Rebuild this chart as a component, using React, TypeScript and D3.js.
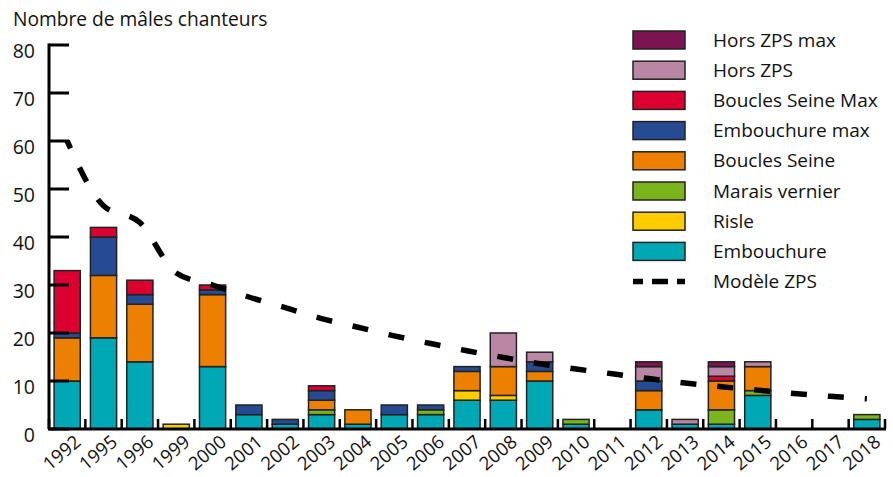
import React from "react";
import * as d3 from "d3";

const years = ["1992","1995","1996","1999","2000","2001","2002","2003","2004","2005","2006","2007","2008","2009","2010","2011","2012","2013","2014","2015","2016","2017","2018"];

const embouchure      = [10,19,14,0,13,3,1,3,1,3,3,6,6,10,1,0,4,1,1,7,0,0,2];
const risle           = [0,0,0,1,0,0,0,0,0,0,0,2,1,0,0,0,0,0,0,0,0,0,0];
const maraisVernier   = [0,0,0,0,0,0,0,1,0,0,1,0,0,0,1,0,0,0,3,1,0,0,1];
const bouclesSeine    = [9,13,12,0,15,0,0,2,3,0,0,4,6,2,0,0,4,0,6,5,0,0,0];
const embouchureMax   = [1,8,2,0,1,2,1,2,0,2,1,1,0,2,0,0,2,0,0,0,0,0,0];
const bouclesSeineMax = [13,2,3,0,1,0,0,1,0,0,0,0,0,0,0,0,0,0,1,0,0,0,0];
const horsZPS         = [0,0,0,0,0,0,0,0,0,0,0,0,7,2,0,0,3,1,2,1,0,0,0];
const horsZPSMax      = [0,0,0,0,0,0,0,0,0,0,0,0,0,0,0,0,1,0,1,0,0,0,0];

const modeleZPS = [60,46.5,43,32.5,30,27.5,25.3,23,21.2,19.4,17.8,16.3,14.9,13.6,12.5,11.5,10.5,9.6,8.8,8.1,7.4,6.8,6.3];

const yTicks = [0,10,20,30,40,50,60,70,80];

const seriesKeys = ["Embouchure","Risle","Marais vernier","Boucles Seine","Embouchure max","Boucles Seine Max","Hors ZPS","Hors ZPS max"];
const seriesValues = [embouchure, risle, maraisVernier, bouclesSeine, embouchureMax, bouclesSeineMax, horsZPS, horsZPSMax];
const seriesColors = ["#00a8b5","#ffcc00","#7ab51d","#ee8001","#264b93","#dc0030","#b986a4","#7b1450"];
const legendOrder = ["Hors ZPS max","Hors ZPS","Boucles Seine Max","Embouchure max","Boucles Seine","Marais vernier","Risle","Embouchure"];
const modelLabel = "Modèle ZPS";

const W = 893, H = 477;
const FONT = "'Open Sans', 'Noto Sans', sans-serif";

export default function App() {
  const x = d3.scaleBand<string>().domain(years).range([49, 885]).paddingInner(0.28).paddingOuter(0.14);
  const y = d3.scaleLinear().domain([0, 80]).range([429, 45]);
  const step = x.step();

  const table = years.map((yr, i) => {
    const row: any = { year: yr };
    seriesKeys.forEach((k, j) => { row[k] = seriesValues[j][i]; });
    return row;
  });
  const stacked = d3.stack<any>().keys(seriesKeys)(table);
  const colorOf = d3.scaleOrdinal<string, string>().domain(seriesKeys).range(seriesColors);

  const line = d3.line<number>()
    .x((_, i) => (x(years[i]) as number) + x.bandwidth() / 2)
    .y((d) => y(d))
    .curve(d3.curveMonotoneX);

  const boundaries = d3.range(years.length + 1).map((k) => 49 + k * step);

  return (
    <svg width={W} height={H} style={{ position: "absolute", left: 0, top: 0, display: "block", background: "#fff" }} fontFamily={FONT}>
      <text x={13} y={26} fontSize={19.2} fill="#111">Nombre de mâles chanteurs</text>

      {/* bars */}
      {stacked.map((s) => (
        <g key={s.key} fill={colorOf(s.key)}>
          {s.map((d, i) => {
            const h = y(d[0]) - y(d[1]);
            if (h <= 0) return null;
            return (
              <rect key={i} x={x(years[i])} y={y(d[1])} width={x.bandwidth()} height={h}
                stroke="#222" strokeWidth={1.5} />
            );
          })}
        </g>
      ))}

      {/* model line */}
      <path d={line(modeleZPS) || ""} fill="none" stroke="#000" strokeWidth={5.5}
        strokeDasharray="16 21" strokeDashoffset={8} />

      {/* y axis */}
      <line x1={49} x2={49} y1={y(80) - 1.5} y2={y(0)} stroke="#000" strokeWidth={3} />
      {yTicks.map((t) => (
        <g key={t}>
          <line x1={49} x2={69} y1={y(t)} y2={y(t)} stroke="#000" strokeWidth={3} />
          <text x={35} y={y(t) + 13} textAnchor="end" fontSize={19.5} fill="#111">{t}</text>
        </g>
      ))}

      {/* x axis */}
      <line x1={48} x2={886} y1={y(0)} y2={y(0)} stroke="#000" strokeWidth={3} />
      {boundaries.map((b, k) => (
        <line key={k} x1={b} x2={b} y1={y(0) - 10} y2={y(0)} stroke="#000" strokeWidth={2.5} />
      ))}
      {years.map((yr) => {
        const cx = (x(yr) as number) + x.bandwidth() / 2;
        return (
          <text key={yr} transform={`translate(${cx + 15},${444}) rotate(-40)`} textAnchor="end"
            fontSize={18.5} fill="#111">{yr}</text>
        );
      })}

      {/* legend */}
      {legendOrder.map((k, i) => {
        const cy = 40 + i * 30.2;
        return (
          <g key={k}>
            <rect x={633} y={cy - 9} width={52} height={18} fill={colorOf(k)} stroke="#222" strokeWidth={1.5} />
            <text x={713} y={cy + 6.5} fontSize={19} fill="#111">{k}</text>
          </g>
        );
      })}
      <line x1={633} x2={685} y1={40 + 8 * 30.2} y2={40 + 8 * 30.2} stroke="#000" strokeWidth={5.5}
        strokeDasharray="16 9" strokeDashoffset={6} />
      <text x={713} y={40 + 8 * 30.2 + 6.5} fontSize={19} fill="#111">{modelLabel}</text>
    </svg>
  );
}
